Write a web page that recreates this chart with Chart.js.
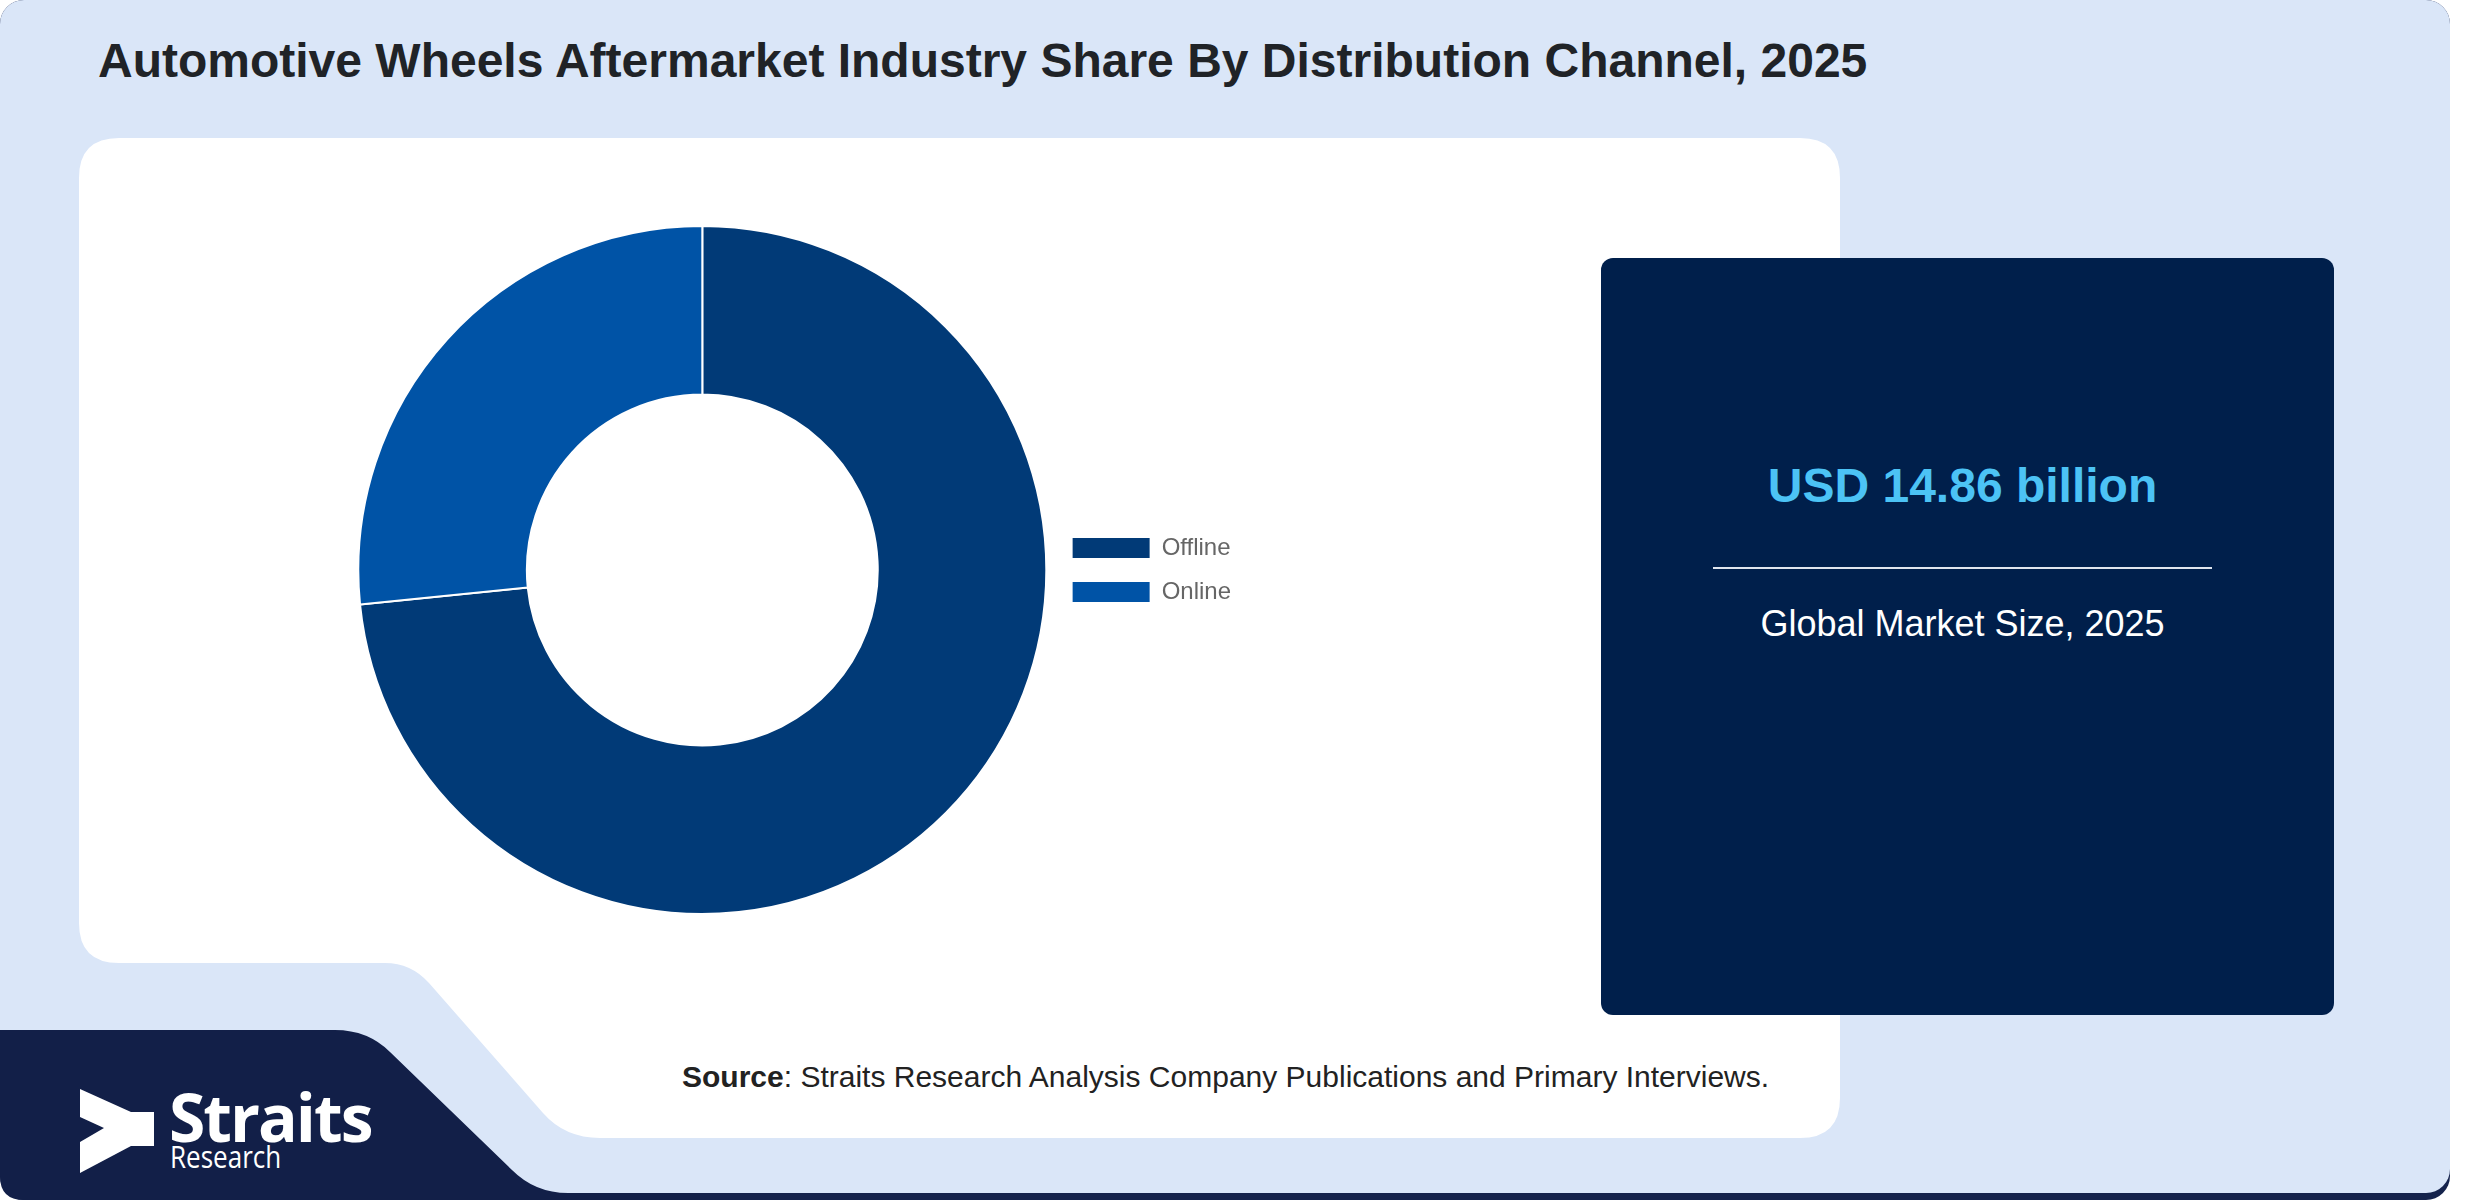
<!DOCTYPE html>
<html>
<head>
<meta charset="utf-8">
<title>Automotive Wheels Aftermarket Industry Share By Distribution Channel, 2025</title>
<script src="https://cdn.jsdelivr.net/npm/chart.js@4.4.1/dist/chart.umd.min.js"></script>
<style>
  html, body { margin: 0; padding: 0; background: #fff; }
  body { width: 2480px; height: 1200px; position: relative; overflow: hidden; font-family: 'Liberation Sans', Arial, sans-serif; }
  #bg { position: absolute; left: 0; top: 0; }
  .txt { position: absolute; line-height: 1; white-space: nowrap; }
  #title { left: 98px; top: 37px; font-size: 48px; font-weight: bold; color: #202327; }
  #value { left: 1601px; width: 723px; top: 462px; text-align: center; font-size: 48px; font-weight: bold; color: #4cc3f5; }
  #rule { position: absolute; left: 1713px; top: 567px; width: 499px; height: 2px; background: #dfe5ee; }
  #caption { left: 1601px; width: 723px; top: 606px; text-align: center; font-size: 36px; color: #fff; }
  #source { left: 682px; top: 1062px; font-size: 30px; color: #222; }
  #brand { left: 169px; top: 1083px; font-family: 'Open Sans', sans-serif; font-size: 66px; font-weight: 700; color: #fff; letter-spacing: -2px; }
  #brand2 { left: 170px; top: 1141px; font-family: 'Open Sans', sans-serif; font-size: 31px; color: #fff; transform: scaleX(0.84); transform-origin: 0 0; }
  #chartBox { position: absolute; left: 352px; top: 225px; width: 889px; height: 690px; }
</style>
</head>
<body>
<svg id="bg" width="2480" height="1200">
  <rect x="0" y="0" width="2450" height="1200" rx="24" fill="#15234c"/>
  <rect x="0" y="0" width="2450" height="1193" rx="24" fill="#dae6f8"/>
  <path d="M119,138 H1800 Q1840,138 1840,178 V1098 Q1840,1138 1800,1138 H600 Q565,1138 543,1113 L429,983 Q411,963 385,963 H119 Q79,963 79,923 V178 Q79,138 119,138 Z" fill="#fff"/>
  <path d="M0,1030 H335 Q368,1030 390,1052 L512,1170 Q535,1193 568,1193 H700 V1200 H24 Q0,1200 0,1176 Z" fill="#121f48"/>
  <rect x="1601" y="258" width="733" height="757" rx="12" fill="#001f4b"/>
  <path d="M80,1089 L131,1112 H154 V1146 H131 L80,1173 V1142 L104,1128 L80,1117 Z" fill="#fff"/>
</svg>

<div class="txt" id="title">Automotive Wheels Aftermarket Industry Share By Distribution Channel, 2025</div>

<div id="chartBox"><canvas id="chart" width="889" height="690"></canvas></div>

<div class="txt" id="value">USD 14.86 billion</div>
<div id="rule"></div>
<div class="txt" id="caption">Global Market Size, 2025</div>

<div class="txt" id="source"><b>Source</b>: Straits Research Analysis Company Publications and Primary Interviews.</div>

<div class="txt" id="brand">Straits</div>
<div class="txt" id="brand2">Research</div>

<script>
const channels = ['Offline', 'Online'];
const shares = [73.4, 26.6];
const colors = ['#013a77', '#0053a6'];

const ctx = document.getElementById('chart');

new Chart(ctx, {
  type: 'doughnut',
  data: {
    labels: channels,
    datasets: [{
      data: shares,
      backgroundColor: colors,
      borderColor: '#ffffff',
      borderWidth: 2
    }]
  },
  options: {
    responsive: false,
    animation: false,
    cutout: '51%',
    plugins: {
      tooltip: { enabled: false },
      legend: {
        position: 'right',
        labels: {
          boxWidth: 77,
          boxHeight: 20,
          padding: 20,
          color: '#666',
          font: { size: 24, family: "'Liberation Sans', Arial, sans-serif" },
          generateLabels: chart => {
            const items = Chart.overrides.doughnut.plugins.legend.labels.generateLabels(chart);
            items.forEach(it => { it.strokeStyle = it.fillStyle; it.lineWidth = 0; });
            return items;
          }
        }
      }
    }
  }
});
</script>
</body>
</html>
